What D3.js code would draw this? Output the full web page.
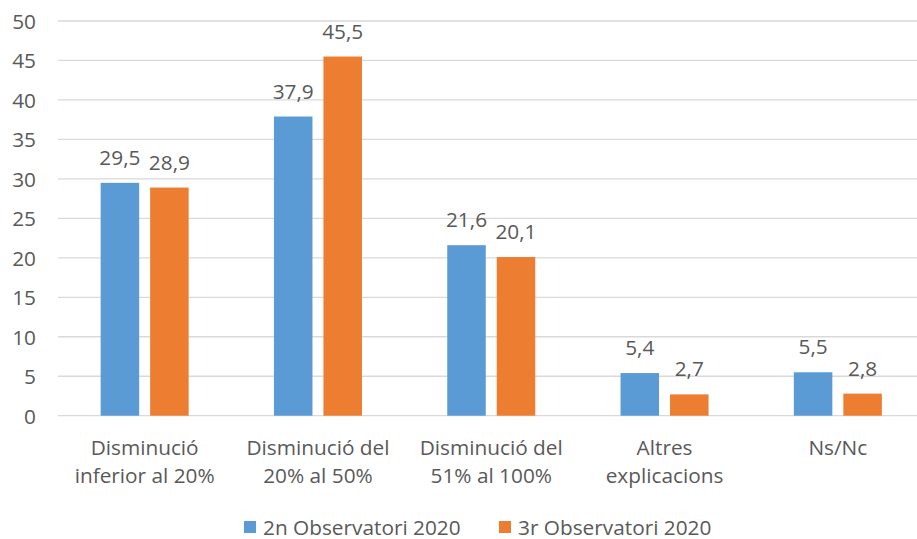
<!DOCTYPE html>
<html><head><meta charset="utf-8">
<script src="https://cdn.jsdelivr.net/npm/d3@7/dist/d3.min.js"></script>
<style>body{margin:0;background:#fff}svg{display:block}text{font-family:"Open Sans",Lato,sans-serif;fill:#595959}</style>
</head><body><svg id="c" width="917" height="539"></svg>
<script>
const categories = [["Disminució","inferior al 20%"],["Disminució del","20% al 50%"],["Disminució del","51% al 100%"],["Altres","explicacions"],["Ns/Nc"]];
const series = ["2n Observatori 2020","3r Observatori 2020"];
const values2n = [29.5, 37.9, 21.6, 5.4, 5.5];
const values3r = [28.9, 45.5, 20.1, 2.7, 2.8];
const yTicks = [0,5,10,15,20,25,30,35,40,45,50];
const colors = ["#5B9BD5","#ED7D31"];
const FS = 20.8;

const svg = d3.select("#c");
const catIdx = categories.map((d,i)=>i);
const x0 = d3.scaleBand().domain(catIdx).range([58, 924.5]).padding(0);
const groupW = 88;
const x1 = d3.scaleBand().domain(series).range([0, groupW]).paddingInner(0.222).paddingOuter(0);
const y = d3.scaleLinear().domain([0,50]).range([415.7, 21]);
const off = (x0.bandwidth()-groupW)/2;

svg.append("g").selectAll("line").data(yTicks).join("line")
  .attr("x1",58).attr("x2",917).attr("y1",d=>y(d)).attr("y2",d=>y(d))
  .attr("stroke","#d9d9d9").attr("stroke-width",1.3);

const yAxis = d3.axisLeft(y).tickValues(yTicks).tickSize(0).tickPadding(0).tickFormat(d=>d);
const ya = svg.append("g").attr("transform","translate(36,0)").call(yAxis);
ya.select(".domain").remove();
ya.selectAll("text").attr("font-size",FS).attr("fill","#595959").attr("font-family","Open Sans").attr("dy","0.36em");

const data = [values2n, values3r];
data.forEach((vals,s)=>{
  const g = svg.append("g");
  g.selectAll("rect").data(vals).join("rect")
    .attr("x",(d,i)=>x0(i)+off+x1(series[s]))
    .attr("y",d=>y(d)).attr("width",x1.bandwidth()).attr("height",d=>y(0)-y(d))
    .attr("fill",colors[s]);
  g.selectAll("text").data(vals).join("text")
    .attr("x",(d,i)=>x0(i)+off+x1(series[s])+x1.bandwidth()/2)
    .attr("y",d=>y(d)-18).attr("text-anchor","middle").attr("font-size",FS)
    .text(d=>d3.format(".1f")(d).replace(".",","));
});

const cg = svg.append("g");
categories.forEach((lines,i)=>{
  const t = cg.append("text").attr("text-anchor","middle").attr("font-size",FS)
    .attr("x", x0(i)+x0.bandwidth()/2).attr("y",455);
  lines.forEach((l,k)=>t.append("tspan").attr("x",x0(i)+x0.bandwidth()/2).attr("dy",k?27.5:0).text(l));
});

const legX = [244, 499];
const lg = svg.append("g");
series.forEach((s,i)=>{
  lg.append("rect").attr("x",legX[i]).attr("y",521).attr("width",12).attr("height",12).attr("fill",colors[i]);
  lg.append("text").attr("x",legX[i]+19).attr("y",534.5).attr("font-size",FS).text(s);
});
</script></body></html>
